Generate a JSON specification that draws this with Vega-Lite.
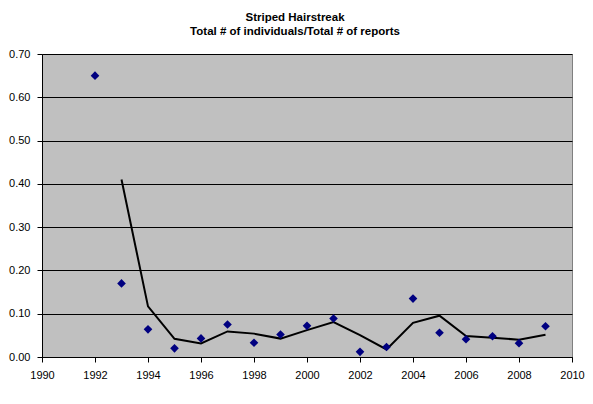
{
  "$schema": "https://vega.github.io/schema/vega-lite/v6.json",
  "autosize": "none",
  "width": 530,
  "height": 303,
  "padding": {"left": 42, "top": 54, "right": 21, "bottom": 47},
  "background": "white",
  "title": {
    "text": ["Striped Hairstreak", "Total # of individuals/Total # of reports"],
    "font": "Liberation Sans",
    "fontSize": 11.5,
    "fontWeight": "bold",
    "color": "black",
    "lineHeight": 14,
    "anchor": "middle",
    "dx": -12,
    "offset": 11
  },
  "data": {
    "values": [
      {"year": 1992, "ratio": 0.65},
      {"year": 1993, "ratio": 0.17},
      {"year": 1994, "ratio": 0.064},
      {"year": 1995, "ratio": 0.02},
      {"year": 1996, "ratio": 0.043},
      {"year": 1997, "ratio": 0.075},
      {"year": 1998, "ratio": 0.033},
      {"year": 1999, "ratio": 0.052},
      {"year": 2000, "ratio": 0.072},
      {"year": 2001, "ratio": 0.089},
      {"year": 2002, "ratio": 0.012},
      {"year": 2003, "ratio": 0.023},
      {"year": 2004, "ratio": 0.135},
      {"year": 2005, "ratio": 0.056},
      {"year": 2006, "ratio": 0.041},
      {"year": 2007, "ratio": 0.048},
      {"year": 2008, "ratio": 0.032},
      {"year": 2009, "ratio": 0.071}
    ]
  },
  "encoding": {
    "x": {
      "field": "year",
      "type": "quantitative",
      "scale": {"domain": [1990, 2010], "nice": false, "zero": false},
      "axis": {
        "title": null,
        "values": [1990, 1992, 1994, 1996, 1998, 2000, 2002, 2004, 2006, 2008, 2010],
        "format": "d",
        "grid": false,
        "tickSize": 5,
        "labelPadding": 7,
        "labelFlush": false
      }
    },
    "y": {
      "field": "ratio",
      "type": "quantitative",
      "scale": {"domain": [0, 0.7], "nice": false},
      "axis": {
        "title": null,
        "values": [0, 0.1, 0.2, 0.3, 0.4, 0.5, 0.6, 0.7],
        "format": ".2f",
        "grid": true,
        "gridColor": "black",
        "gridOpacity": 1,
        "tickSize": 5,
        "labelPadding": 7
      }
    }
  },
  "layer": [
    {
      "transform": [
        {"window": [{"op": "mean", "field": "ratio", "as": "avg"}, {"op": "count", "as": "n"}], "frame": [-1, 0], "sort": [{"field": "year"}]},
        {"filter": "datum.n == 2"}
      ],
      "mark": {"type": "line", "color": "black", "strokeWidth": 2},
      "encoding": {"y": {"field": "avg", "type": "quantitative"}}
    },
    {
      "mark": {"type": "point", "shape": "diamond", "filled": true, "color": "#000080", "size": 75, "opacity": 1}
    }
  ],
  "config": {
    "view": {"fill": "#C0C0C0", "stroke": "#808080", "strokeWidth": 1},
    "axis": {
      "domainColor": "black",
      "tickColor": "black",
      "labelColor": "black",
      "labelFont": "Liberation Sans",
      "labelFontSize": 11,
      "domainWidth": 1,
      "tickWidth": 1,
      "gridWidth": 1
    }
  }
}
